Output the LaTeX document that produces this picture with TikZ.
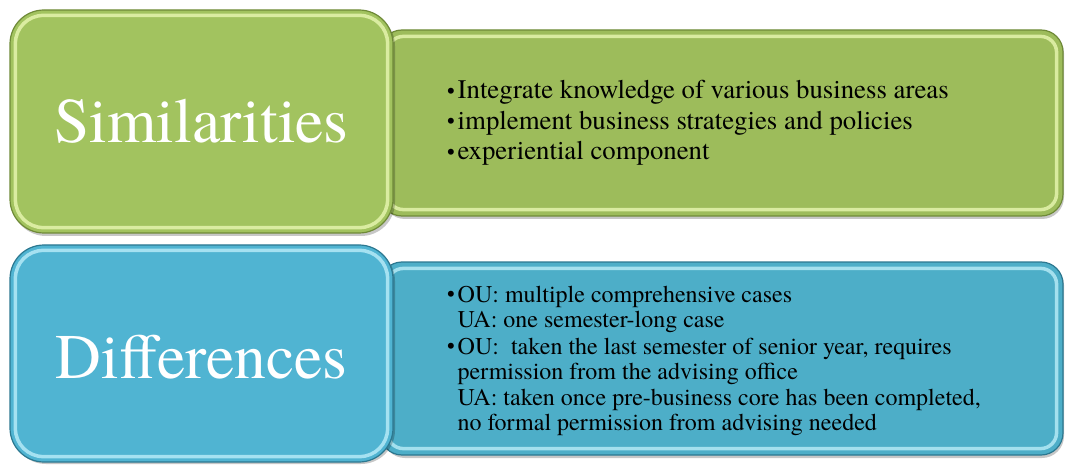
\documentclass[tikz,border=0pt]{standalone}
\usepackage{fontspec}
\IfFontExistsTF{texgyretermes-regular.otf}
  {\setmainfont{texgyretermes-regular.otf}}
  {\setmainfont{Liberation Serif}}
\definecolor{gfill}{HTML}{A2C35F}
\definecolor{gright}{HTML}{9DBC5B}
\definecolor{gdark}{HTML}{6F8A38}
\definecolor{glight}{HTML}{EEFBB8}
\definecolor{bfill}{HTML}{50B4D2}
\definecolor{bright}{HTML}{4DAEC8}
\definecolor{bdark}{HTML}{2C7890}
\definecolor{blight}{HTML}{C2F1FC}
\begin{document}
\begin{tikzpicture}[x=1pt,y=1pt,
  shadowbox/.style={fill=black,opacity=0.22},
  leftbox/.style={minimum width=383pt,inner sep=0pt,rounded corners=34pt,line width=1.2pt},
  rightbox/.style={minimum width=683pt,inner sep=0pt,rounded corners=22pt,line width=1.2pt},
  hilite/.style={line width=3.5pt,opacity=0.75},
  label/.style={text=white,font=\fontsize{63.5}{70}\selectfont,anchor=base},
  bodytext/.style={text=black,anchor=base west,inner sep=0pt,align=left}]
\useasboundingbox (0,0) rectangle (1065,464);
\newcommand{\bul}{\makebox[10.5pt][l]{\raisebox{0.5pt}{\fontsize{22}{22}\selectfont\textbullet}}}
% ---------- green row ----------
\fill[shadowbox,rounded corners=22pt] (383,245) rectangle (1064,433);
\node[rightbox,minimum height=186pt,fill=gright,draw=gdark] (gr) at (721.5,341) {};
\draw[hilite,draw=glight,rounded corners=16pt] ([shift={(8,-7)}]gr.north west) rectangle ([shift={(-7,7)}]gr.south east);
\fill[shadowbox,rounded corners=34pt] (12,228) rectangle (395,452);
\node[leftbox,minimum height=223pt,fill=gfill,draw=gdark] (gl) at (201.5,342.5) {};
\draw[hilite,draw=glight,rounded corners=28pt] ([shift={(6,-6)}]gl.north west) rectangle ([shift={(-6,6)}]gl.south east);
\node[label] (sim) at (201.5,321) {Similarities};
\node[bodytext] (simtext) at (447,365) {%
  \fontsize{26.8}{30.5}\selectfont
  \begin{tabular}[t]{@{}l@{}l@{}}
  \bul & Integrate knowledge of various business areas\\
  \bul & implement business strategies and policies\\
  \bul & experiential component
  \end{tabular}};
% ---------- blue row ----------
\fill[shadowbox,rounded corners=22pt] (383,6) rectangle (1064,201);
\node[rightbox,minimum height=193pt,fill=bright,draw=bdark] (br) at (721.5,105.5) {};
\draw[hilite,draw=blight,rounded corners=16pt] ([shift={(8,-7)}]br.north west) rectangle ([shift={(-7,7)}]br.south east);
\fill[shadowbox,rounded corners=34pt] (12,0) rectangle (395,217);
\node[leftbox,minimum height=217pt,fill=bfill,draw=bdark] (bl) at (201.5,110.5) {};
\draw[hilite,draw=blight,rounded corners=28pt] ([shift={(6,-6)}]bl.north west) rectangle ([shift={(-6,6)}]bl.south east);
\node[label] (dif) at (201.5,86) {Differences};
\node[bodytext] (diftext) at (447,162) {%
  \fontsize{24}{25.4}\selectfont
  \begin{tabular}[t]{@{}l@{}l@{}}
  \bul & OU: multiple comprehensive cases\\
       & UA: one semester-long case\\[1.5pt]
  \bul & OU:\ \ taken the last semester of senior year, requires\\
       & permission from the advising office\\
       & UA: taken once pre-business core has been completed,\\
       & no formal permission from advising needed
  \end{tabular}};
\end{tikzpicture}
\end{document}
